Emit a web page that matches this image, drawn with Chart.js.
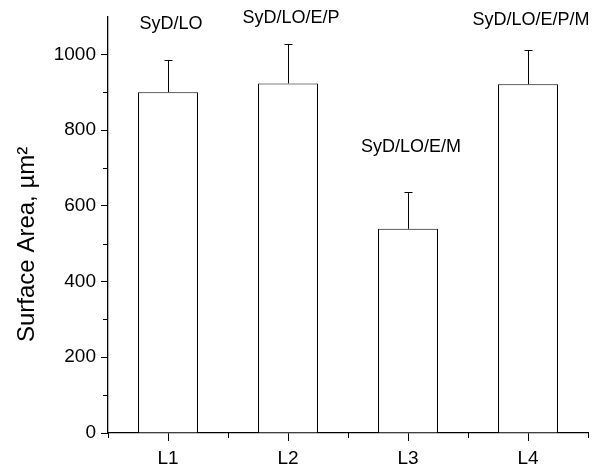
<!DOCTYPE html>
<html>
<head>
<meta charset="utf-8">
<script src="https://cdn.jsdelivr.net/npm/chart.js@4"></script>
<style>
  body { margin: 0; background: #fff; }
  #wrap { width: 596px; height: 469px; }
</style>
</head>
<body>
<div id="wrap"><canvas id="c" width="596" height="469"></canvas></div>
<script>
const categories = ["L1", "L2", "L3", "L4"];
const areas = [900, 923, 539, 921];
const errUp = [84, 103, 97, 90];
const groupNames = ["SyD/LO", "SyD/LO/E/P", "SyD/LO/E/M", "SyD/LO/E/P/M"];
const nameHeights = [1081, 1096, 755, 1090];
const yTicks = [0, 200, 400, 600, 800, 1000];

const FONT = '"Liberation Sans", Arial, Helvetica, sans-serif';

// error bars, group names, minor ticks and the axis title
const extras = {
  id: 'extras',
  afterDatasetsDraw(chart) {
    const ctx = chart.ctx;
    const x = chart.scales.x, y = chart.scales.y;
    ctx.save();
    ctx.strokeStyle = '#000';
    ctx.lineWidth = 1;
    areas.forEach((v, i) => {
      const px = Math.round(x.getPixelForValue(i)) + 0.5;
      const y0 = y.getPixelForValue(v);
      const y1 = y.getPixelForValue(v + errUp[i]);
      ctx.beginPath();
      ctx.moveTo(px, y0);
      ctx.lineTo(px, y1);
      ctx.moveTo(px - 4, Math.round(y1) + 0.5);
      ctx.lineTo(px + 4, Math.round(y1) + 0.5);
      ctx.stroke();
    });

    ctx.fillStyle = '#000';
    ctx.font = '18px ' + FONT;
    ctx.textAlign = 'center';
    ctx.textBaseline = 'middle';
    groupNames.forEach((n, i) => {
      ctx.fillText(n, x.getPixelForValue(i) + 3, y.getPixelForValue(nameHeights[i]));
    });

    // minor ticks
    const area = chart.chartArea;
    ctx.beginPath();
    y.ticks.forEach(t => {
      if (t.value % 200 !== 0 && t.value < 1100) {
        const py = Math.round(y.getPixelForValue(t.value)) + 0.5;
        ctx.moveTo(area.left - 5, py);
        ctx.lineTo(area.left, py);
      }
    });
    for (let i = 0; i <= categories.length; i++) {
      const px = Math.round(area.left + (area.right - area.left) * i / categories.length) + 0.5;
      ctx.moveTo(px, area.bottom);
      ctx.lineTo(px, area.bottom + 5);
    }
    ctx.stroke();

    ctx.translate(27, 342);
    ctx.rotate(-Math.PI / 2);
    ctx.font = '24px ' + FONT;
    ctx.textAlign = 'left';
    ctx.fillText('Surface Area, \u00b5m\u00b2', 0, 0);
    ctx.restore();
  }
};

new Chart(document.getElementById('c').getContext('2d'), {
  type: 'bar',
  data: {
    labels: categories,
    datasets: [{
      data: areas,
      backgroundColor: '#fff',
      borderColor: '#000',
      borderWidth: 1,
      barPercentage: 0.5,
      categoryPercentage: 1
    }]
  },
  options: {
    responsive: false,
    animation: false,
    layout: { padding: { top: 14, right: 8, left: 0, bottom: 0 } },
    plugins: { legend: { display: false }, tooltip: { enabled: false } },
    scales: {
      x: {
        offset: true,
        border: { color: '#000', width: 1.3 },
        grid: { offset: false, drawOnChartArea: false, tickLength: 8, color: '#000' },
        ticks: { color: '#000', font: { family: FONT, size: 19 }, padding: 6 },
        afterFit(s) { s.height = 36; }
      },
      y: {
        min: 0,
        max: 1100,
        border: { color: '#000', width: 1.3 },
        grid: {
          drawOnChartArea: false,
          tickLength: 7,
          color: (c) => (c.tick && yTicks.includes(c.tick.value)) ? '#000' : 'rgba(0,0,0,0)'
        },
        ticks: {
          stepSize: 100,
          color: '#000',
          font: { family: FONT, size: 19 },
          padding: 5,
          callback: (v) => yTicks.includes(v) ? String(v) : ''
        },
        afterFit(s) { s.width = 108; }
      }
    }
  },
  plugins: [extras]
});
</script>
</body>
</html>
